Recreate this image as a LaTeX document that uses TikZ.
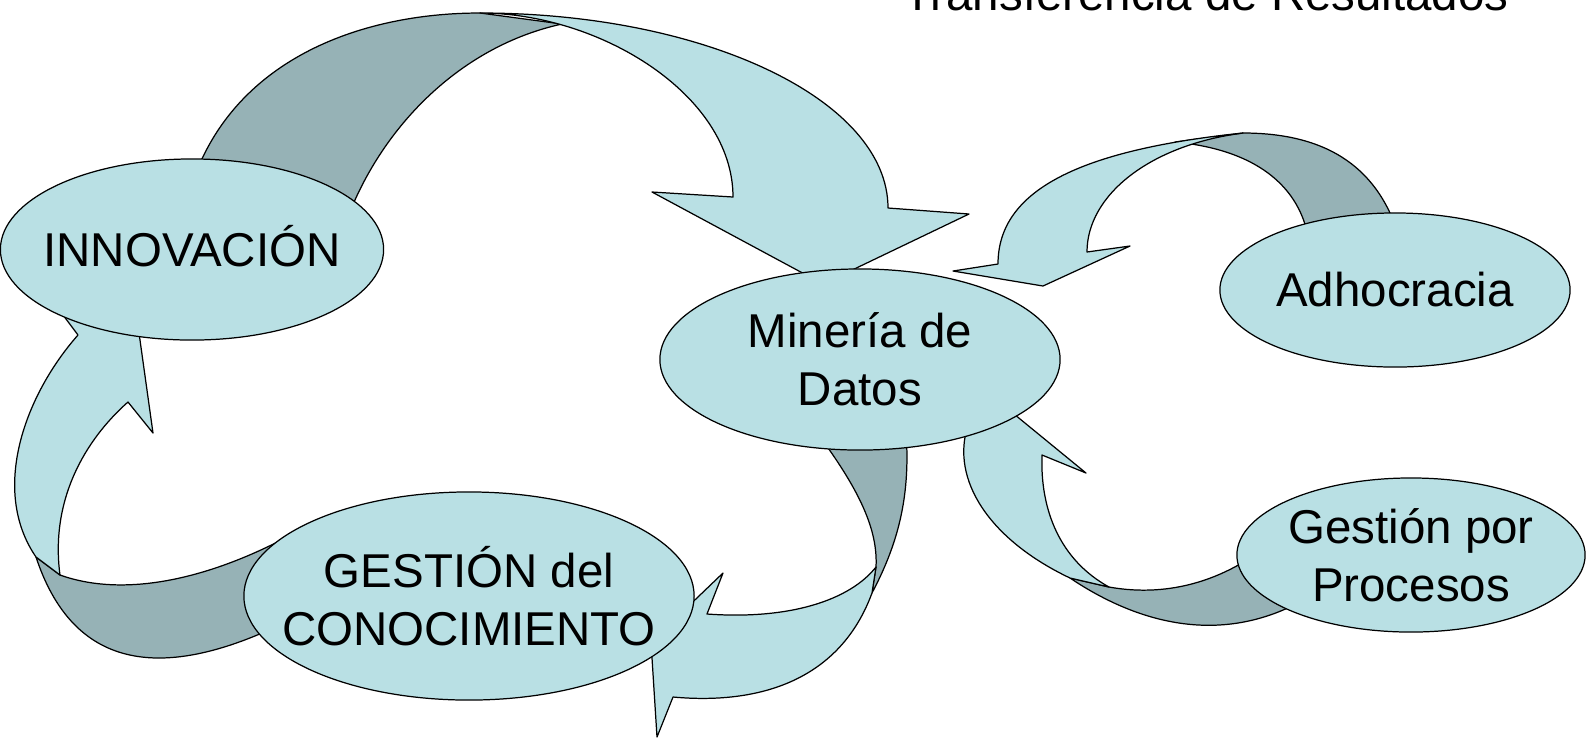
\documentclass[tikz,border=0pt]{standalone}
\usepackage{fontspec}
\setmainfont{Liberation Sans}
\usetikzlibrary{shapes.geometric}
\definecolor{ribbon}{RGB}{185,224,228}
\definecolor{ribbonback}{RGB}{150,178,182}

\begin{document}
\begin{tikzpicture}[x=0.01cm, y=-0.01cm,
    front/.style={fill=ribbon, draw=black, line width=0.35pt, line join=round},
    back/.style={fill=ribbonback, draw=black, line width=0.35pt, line join=round},
    bubble/.style={ellipse, fill=ribbon, draw=black, line width=0.35pt, inner sep=0pt},
    txt/.style={font=\fontsize{13.5}{16.5}\selectfont, align=center, inner sep=0pt}]
\useasboundingbox (0,0) rectangle (1587,738);

\node[txt, anchor=base] (title) at (1206,10) {Transferencia de Resultados};

% back faces
\draw[back] (190,190) .. controls (230,60) and (360,13) .. (480,13)
    -- (562,24) .. controls (452,48) and (370,140) .. (340,240) -- cycle;
\draw[back] (36,557) .. controls (70,660) and (150,690) .. (290,620)
    -- (300,530) .. controls (220,575) and (130,600) .. (60,575) -- cycle;
\draw[back] (1243,133) .. controls (1330,133) and (1380,170) .. (1400,240)
    -- (1310,250) .. controls (1305,190) and (1260,150) .. (1175,142) -- cycle;
\draw[back] (1070,578) .. controls (1140,625) and (1230,650) .. (1320,590)
    -- (1280,535) .. controls (1230,580) and (1170,598) .. (1109,587) -- cycle;
\draw[back] (815,430) .. controls (860,490) and (878,530) .. (876,567)
    -- (872,593) .. controls (900,540) and (912,490) .. (905,420) -- cycle;

% front faces with heads
\draw[front] (480,13) .. controls (705,13) and (888,100) .. (888,208)
    -- (969,214) -- (823,284) -- (652,192) -- (733,197)
    .. controls (733,95) and (600,13) .. (480,13) -- cycle;
\draw[front] (36,557) .. controls (-10,490) and (25,395) .. (78,335)
    -- (54,303) -- (133,290) -- (153,433) -- (128,402)
    .. controls (85,440) and (50,500) .. (60,575) -- cycle;
\draw[front] (1243,133) .. controls (1080,150) and (998,190) .. (998,264)
    -- (953,271) -- (1043,286) -- (1130,246) -- (1087,252)
    .. controls (1087,195) and (1150,145) .. (1243,133) -- cycle;
\draw[front] (1070,578) .. controls (990,540) and (950,480) .. (968,425)
    -- (931,410) -- (981,387) -- (1086,473) -- (1042,455)
    .. controls (1040,510) and (1060,560) .. (1109,587) -- cycle;
\draw[front] (872,593) .. controls (840,680) and (760,705) .. (673,697)
    -- (657,737) -- (651,642) -- (723,573) -- (707,614)
    .. controls (790,620) and (850,600) .. (876,567) -- cycle;

% ellipses
\node[bubble, minimum width=3.83cm, minimum height=1.81cm,
    label={[txt, yshift=1pt]center:INNOVACIÓN}] (inno) at (192,249.5) {};
\node[bubble, minimum width=4cm, minimum height=1.81cm,
    label={[txt]center:{Minería de\\Datos}}] (mineria) at (860,359.5) {};
\node[bubble, minimum width=3.5cm, minimum height=1.54cm,
    label={[txt]center:Adhocracia}] (adho) at (1395,290) {};
\node[bubble, minimum width=3.48cm, minimum height=1.54cm,
    label={[txt]center:{Gestión por\\Procesos}}] (procesos) at (1411,555) {};
\node[bubble, minimum width=4.5cm, minimum height=2.08cm,
    label={[txt]center:{GESTIÓN del\\CONOCIMIENTO}}] (gestion) at (469,596) {};
\end{tikzpicture}
\end{document}
